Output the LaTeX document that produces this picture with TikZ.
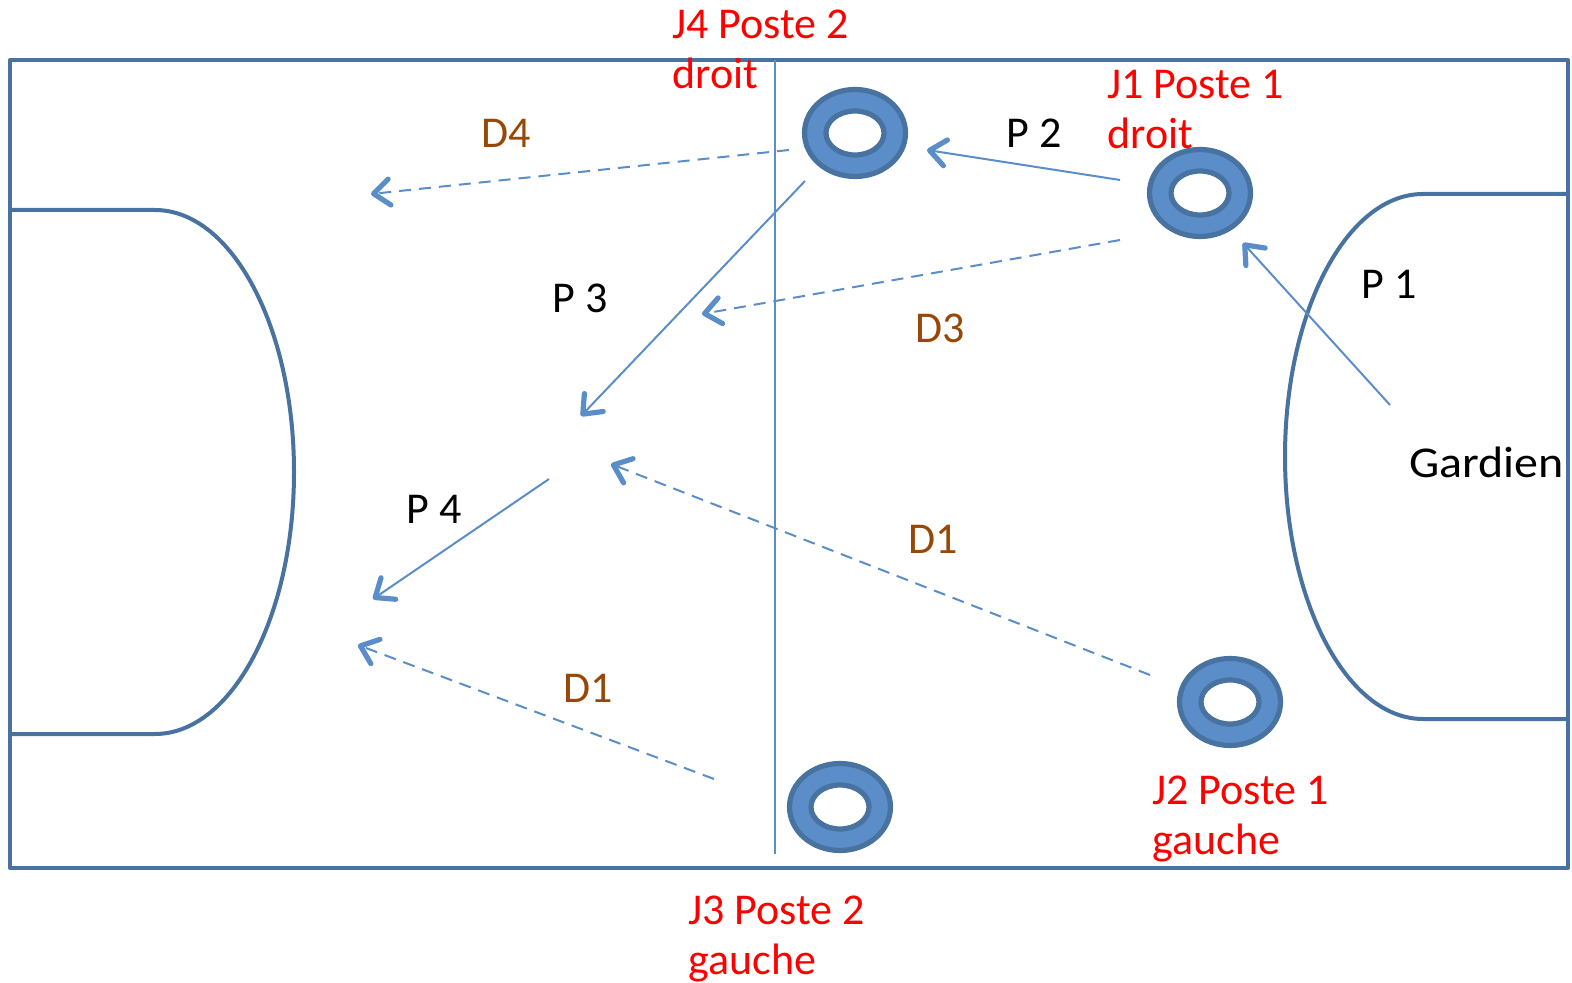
\documentclass[tikz,border=0pt]{standalone}
\usepackage{fontspec}
\setmainfont{Carlito}
\usetikzlibrary{arrows.meta,shapes.geometric}
\definecolor{court}{HTML}{48729F}
\definecolor{ring}{HTML}{5B8DC9}
\definecolor{pass}{HTML}{5B8DC9}
\definecolor{runcol}{HTML}{974806}
\tikzset{
  field/.style={draw=court, line width=2pt, line join=round},
  midline/.style={draw=pass, line width=0.9pt},
  plot/.style={ellipse, draw=court, line width=2.6pt, fill=ring, minimum width=50.5pt, minimum height=43.5pt, inner sep=0},
  hole/.style={ellipse, draw=court, line width=2.6pt, fill=white, minimum width=29pt, minimum height=22pt, inner sep=0},
  passarrow/.style={draw=pass, line width=1pt, -{Straight Barb[length=8pt,width=13pt,line width=2.6pt,round]}},
  runarrow/.style={passarrow, dash pattern=on 6pt off 4pt},
  labelfont/.style={font=\fontsize{22pt}{25pt}\selectfont, anchor=base west, inner sep=0},
  player/.style={labelfont, text=red, align=left},
  tag/.style={labelfont, text=black},
  run/.style={labelfont, text=runcol}
}
\begin{document}
\begin{tikzpicture}[x=0.5pt, y=-0.5pt]
\useasboundingbox (0,0) rectangle (1572,983);

% court outline and goal areas
\draw[field] (10,60) rectangle (1568,868);
\draw[field] (10,210) -- (155,210) arc[start angle=-90, end angle=90, x radius=139, y radius=262] -- (10,734);
\draw[field] (1568,194) -- (1423,194) arc[start angle=-90, end angle=-270, x radius=138, y radius=262.5] -- (1568,719);

% half-way line
\coordinate (midtop) at (775,60);
\coordinate (midbot) at (775,854);
\draw[midline] (midtop) -- (midbot);

% players on their spots
\node[plot] (j4) at (855,133) {};
\node[hole] at (j4) {};
\node[plot] (j1) at (1200,193) {};
\node[hole] at (j1) {};
\node[plot] (j2) at (1230,702) {};
\node[hole] at (j2) {};
\node[plot] (j3) at (840,807) {};
\node[hole] at (j3) {};

% arrow end points
\coordinate (gk) at (1390,405);
\coordinate (p1end) at (1243,243);
\coordinate (p2start) at (1120,180);
\coordinate (p2end) at (927,150);
\coordinate (d4start) at (789,150);
\coordinate (d4end) at (371,194);
\coordinate (d3start) at (1120,240);
\coordinate (d3end) at (702,314);
\coordinate (p3start) at (805,181);
\coordinate (p3end) at (581,416);
\coordinate (p4start) at (549,479);
\coordinate (p4end) at (373,599);
\coordinate (d1start) at (1150,675);
\coordinate (d1end) at (611,464);
\coordinate (d1bstart) at (714,779);
\coordinate (d1bend) at (358,645);

% passes
\draw[passarrow] (gk) -- (p1end);
\draw[passarrow] (p2start) -- (p2end);
\draw[passarrow] (p3start) -- (p3end);
\draw[passarrow] (p4start) -- (p4end);
% runs
\draw[runarrow] (d4start) -- (d4end);
\draw[runarrow] (d3start) -- (d3end);
\draw[runarrow] (d1start) -- (d1end);
\draw[runarrow] (d1bstart) -- (d1bend);

% labels
\node[player] (lj4) at (672,89) {J4 Poste 2\\droit};
\node[player] (lj1) at (1107,149) {J1 Poste 1\\droit};
\node[player] (lj2) at (1152,854) {J2 Poste 1\\gauche};
\node[player] (lj3) at (688,974) {J3 Poste 2\\gauche};

\node[tag] (lp2) at (1006,148) {P 2};
\node[tag] (lp1) at (1361,299) {P 1};
\node[tag] (lp3) at (552,313) {P 3};
\node[tag] (lp4) at (406,523) {P 4};
\node[tag] (lgk) at (1409,478) {\scalebox{1.09}[1]{Gardien}};

\node[run] (ld4) at (481,148) {D4};
\node[run] (ld3) at (915,343) {D3};
\node[run] (ld1) at (908,553) {D1};
\node[run] (ld1b) at (563,702) {D1};
\end{tikzpicture}
\end{document}
